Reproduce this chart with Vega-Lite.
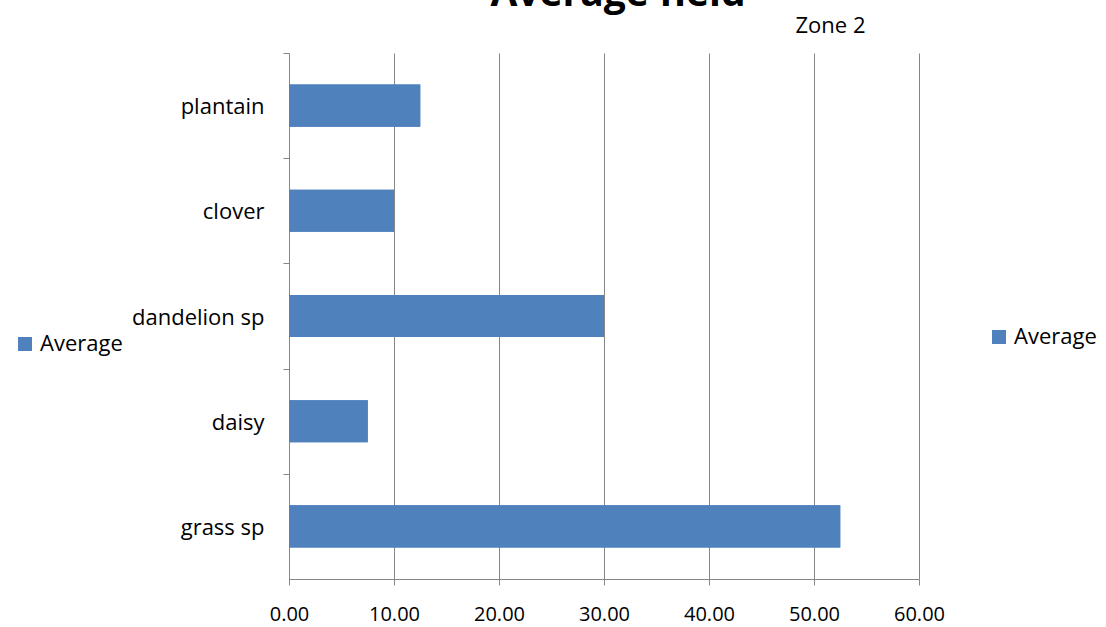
{
  "$schema": "https://vega.github.io/schema/vega-lite/v6.json",
  "width": 630,
  "height": 526,
  "autosize": "none",
  "padding": {"left": 289, "top": 53, "right": 187, "bottom": 48},
  "background": "white",
  "config": {
    "view": {"stroke": null},
    "font": "Open Sans"
  },
  "title": {
    "text": "Average field",
    "font": "Open Sans",
    "fontSize": 39,
    "fontWeight": "bold",
    "color": "black",
    "anchor": "middle",
    "dx": 14,
    "offset": 0
  },
  "data": {
    "values": [
      {"species": "plantain", "value": 12.5, "series": "Average"},
      {"species": "clover", "value": 10, "series": "Average"},
      {"species": "dandelion sp", "value": 30, "series": "Average"},
      {"species": "daisy", "value": 7.5, "series": "Average"},
      {"species": "grass sp", "value": 52.5, "series": "Average"}
    ]
  },
  "layer": [
    {
      "mark": {"type": "bar"},
      "encoding": {
        "y": {
          "field": "species",
          "type": "nominal",
          "sort": ["plantain", "clover", "dandelion sp", "daisy", "grass sp"],
          "scale": {"paddingInner": 0.6, "paddingOuter": 0.3},
          "axis": {
            "title": null,
            "grid": false,
            "tickOffset": -52.6,
            "labelOffset": 53.6,
            "domainColor": "#868686",
            "tickColor": "#868686",
            "tickSize": 6,
            "labelFontSize": 22,
            "labelColor": "black",
            "labelPadding": 19
          }
        },
        "x": {
          "field": "value",
          "type": "quantitative",
          "scale": {"domain": [0, 60]},
          "axis": {
            "title": null,
            "values": [0, 10, 20, 30, 40, 50, 60],
            "format": ".2f",
            "labelFlush": false,
            "grid": true,
            "gridColor": "#868686",
            "gridOpacity": 1,
            "domainColor": "#868686",
            "tickColor": "#868686",
            "tickSize": 6,
            "labelFontSize": 20,
            "labelColor": "black",
            "labelPadding": 19
          }
        },
        "color": {
          "field": "series",
          "type": "nominal",
          "scale": {"range": ["#4F81BD"]},
          "legend": {
            "title": null,
            "orient": "none",
            "legendX": -275,
            "legendY": 280,
            "symbolType": "square",
            "symbolSize": 196,
            "symbolStrokeWidth": 0,
            "labelFontSize": 22,
            "labelColor": "black",
            "labelOffset": 4
          }
        }
      }
    },
    {
      "mark": {"type": "bar"},
      "encoding": {
        "y": {
          "field": "species",
          "type": "nominal",
          "sort": ["plantain", "clover", "dandelion sp", "daisy", "grass sp"]
        },
        "x": {
          "field": "value",
          "type": "quantitative",
          "scale": {"domain": [0, 60]},
          "axis": {
            "orient": "top",
            "title": "Zone 2",
            "titleFontSize": 22,
            "titleFontWeight": "normal",
            "titleColor": "black",
            "titleX": 541,
            "titleY": -28,
            "titleAlign": "center",
            "titleBaseline": "middle",
            "labels": false,
            "ticks": false,
            "domain": false,
            "grid": false
          }
        },
        "color": {
          "field": "series",
          "type": "nominal",
          "scale": {"range": ["#4F81BD"]},
          "legend": {
            "title": null,
            "orient": "none",
            "legendX": 699,
            "legendY": 273,
            "symbolType": "square",
            "symbolSize": 196,
            "symbolStrokeWidth": 0,
            "labelFontSize": 22,
            "labelColor": "black",
            "labelOffset": 4
          }
        }
      }
    }
  ],
  "resolve": {"scale": {"color": "independent", "x": "independent"}, "axis": {"x": "independent"}, "legend": {"color": "independent"}}
}
